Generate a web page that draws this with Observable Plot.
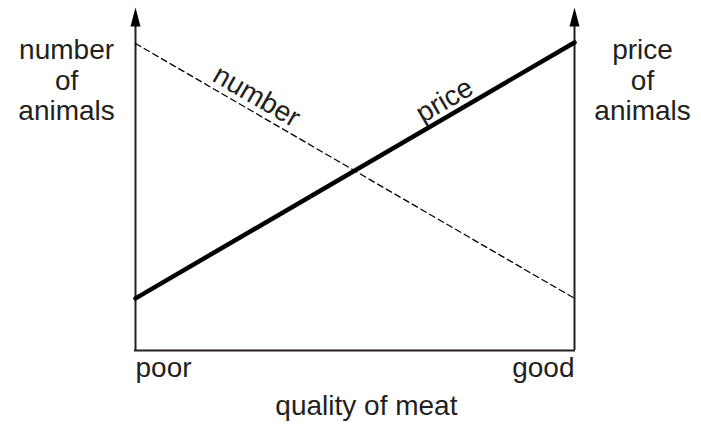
<!DOCTYPE html>
<html>
<head>
<meta charset="utf-8">
<script src="https://cdn.jsdelivr.net/npm/d3@7"></script>
<script src="https://cdn.jsdelivr.net/npm/@observablehq/plot@0.6"></script>
<style>
  html, body { margin: 0; padding: 0; background: #fff; }
  svg { display: block; }
</style>
</head>
<body>
<div id="chart"></div>
<script>
// Data (in unit space: x 0 = poor, 1 = good; y 0 = bottom, 1 = top arrow tip)
const quality = [0, 1];
const numberOfAnimals = [0.895, 0.152];
const priceOfAnimals = [0.152, 0.898];

// Text labels
const xEndLabels = ["poor", "good"];
const xTitle = "quality of meat";
const leftTitle = "number\nof\nanimals";
const rightTitle = "price\nof\nanimals";
const lineLabels = ["number", "price"];

// Label anchor positions (data units)
const lineLabelX = [0.276, 0.704];
const lineLabelY = [0.741, 0.729];
const lineLabelRotate = [30, -30];
const sideTitleX = [-0.157, 1.155];
const sideTitleY = 0.9125;
const endLabelY = -0.0525;
const xTitlePos = [0.526, -0.163];

const ink = "#231f20";
const font = "Liberation Sans, Arial, Helvetica, sans-serif";

const numberData = quality.map((q, i) => ({x: q, y: numberOfAnimals[i]}));
const priceData = quality.map((q, i) => ({x: q, y: priceOfAnimals[i]}));

const arrowHead = {
  draw(ctx) {
    ctx.moveTo(0, 0);
    ctx.lineTo(5, 19);
    ctx.lineTo(-5, 19);
    ctx.closePath();
  }
};
const arrowBase = 1 - 19 / 343;

const plot = Plot.plot({
  width: 701,
  height: 428,
  marginLeft: 135,
  marginRight: 127,
  marginTop: 7,
  marginBottom: 78,
  x: {domain: [0, 1], axis: null},
  y: {domain: [0, 1], axis: null},
  style: {fontFamily: font, background: "#fff"},
  marks: [
    // axes
    Plot.ruleX(quality, {x: d => d, y1: 0, y2: arrowBase, stroke: ink, strokeWidth: 2}),
    Plot.ruleY([0], {x1: 0, x2: 1, stroke: ink, strokeWidth: 2, strokeLinecap: "square"}),
    Plot.dot(quality, {x: d => d, y: 1, symbol: arrowHead, fill: "#000", stroke: null, r: 5}),
    // lines
    Plot.line(numberData, {x: "x", y: "y", stroke: "#000", strokeWidth: 1.3, strokeDasharray: "6,4"}),
    Plot.line(priceData, {x: "x", y: "y", stroke: "#000", strokeWidth: 4.5}),
    // line labels
    Plot.text(lineLabels, {
      x: (d, i) => lineLabelX[i], y: (d, i) => lineLabelY[i], text: d => d,
      rotate: (d, i) => lineLabelRotate[i],
      textAnchor: "middle", lineAnchor: "middle", fontSize: 28, fill: ink
    }),
    // side titles
    Plot.text([leftTitle, rightTitle], {
      x: (d, i) => sideTitleX[i], y: sideTitleY, text: d => d,
      textAnchor: "middle", lineAnchor: "top", lineHeight: 1.09, fontSize: 28, fill: ink
    }),
    // poor / good
    Plot.text([xEndLabels[0]], {
      x: quality[0], y: endLabelY, text: d => d,
      textAnchor: "start", lineAnchor: "middle", fontSize: 28, fill: ink
    }),
    Plot.text([xEndLabels[1]], {
      x: quality[1], y: endLabelY, text: d => d,
      textAnchor: "end", lineAnchor: "middle", fontSize: 28, fill: ink
    }),
    Plot.text([xTitle], {
      x: xTitlePos[0], y: xTitlePos[1], text: d => d,
      textAnchor: "middle", lineAnchor: "middle", fontSize: 28, fill: ink
    })
  ]
});
document.getElementById("chart").appendChild(plot);
</script>
</body>
</html>
